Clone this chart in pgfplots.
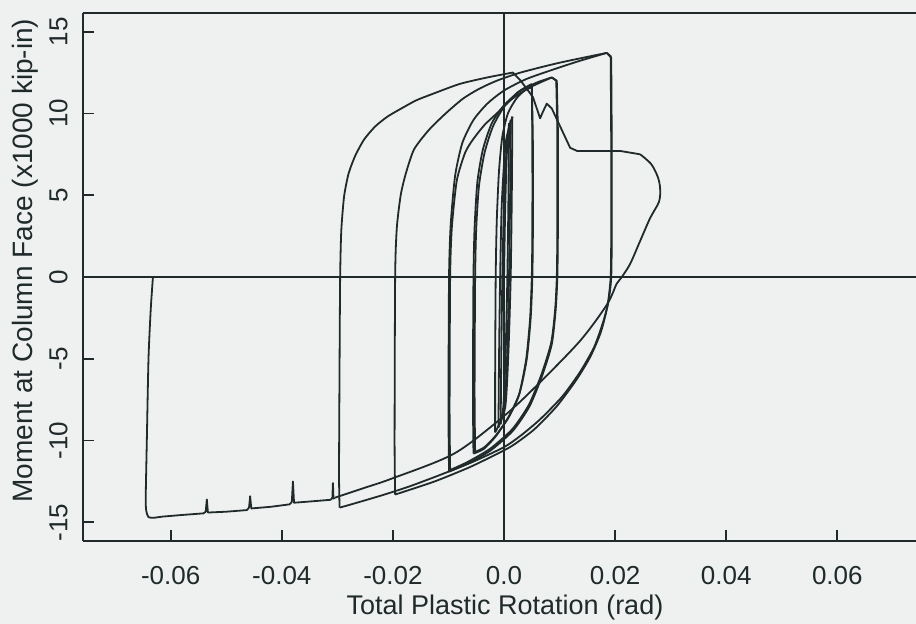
\documentclass[border=0pt]{standalone}
\usepackage{pgfplots}
\pgfplotsset{compat=1.18}
\usepackage{fontspec}
\setmainfont{Liberation Sans}
\definecolor{bgc}{RGB}{238,241,240}
\definecolor{ink}{RGB}{32,42,42}
\begin{document}
\begin{tikzpicture}
\fill[bgc] (-41.5pt,-41.5pt) rectangle (416.5pt,270.5pt);
\useasboundingbox (-41.5pt,-41.5pt) rectangle (416.5pt,270.5pt);
\begin{axis}[
  at={(0,0)}, anchor=south west,
  scale only axis, width=416.5pt, height=264pt,
  xmin=-0.07579, xmax=0.07416, ymin=-16.14, ymax=16.14,
  axis x line*=box, axis y line*=left,
  x axis line style={-, line width=0.9pt, ink},
  y axis line style={-, line width=0.9pt, ink},
  xtick pos=bottom, ytick pos=left,
  tick align=inside, major tick length=5.5pt,
  tick style={line width=0.9pt, ink},
  scaled x ticks=false, scaled y ticks=false,
  xtick={-0.06,-0.04,-0.02,0,0.02,0.04,0.06},
  xticklabels={-0.06,-0.04,-0.02,0.0,0.02,0.04,0.06},
  ytick={-15,-10,-5,0,5,10,15},
  yticklabels={-15,-10,-5,0,5,10,15},
  ticklabel style={font=\fontsize{13}{15}\selectfont, text=ink, inner sep=0pt},
  xticklabel style={anchor=north},
  xticklabel shift=12.5pt,
  yticklabel style={rotate=90, anchor=south},
  yticklabel shift=7.5pt,
  extra x ticks={0}, extra x tick labels={},
  extra y ticks={0}, extra y tick labels={},
  extra tick style={major tick length=0pt, grid=major, major grid style={line width=0.9pt, ink}},
  xlabel={Total Plastic Rotation (rad)},
  ylabel={Moment at Column Face (x1000 kip-in)},
  xlabel style={at={(axis description cs:0.5066,0)}, anchor=base, yshift=-37pt, font=\fontsize{13.5}{16}\selectfont, text=ink},
  ylabel style={at={(axis description cs:-0.0612,0.531)}, anchor=base, rotate=0, font=\fontsize{14}{16}\selectfont, text=ink},
  cv/.style={ink, line width=0.9pt, line join=round, no marks, smooth, tension=0.4},
  ln/.style={ink, line width=0.9pt, line join=round, no marks, sharp plot},
]
% small elastic cycles
\addplot[cv] coordinates {
(0,0)(0.0002,4)(0.0005,7.5)(0.0009,9.4)
};
\addplot[cv] coordinates {
(0.0009,9.4)(0.0008,5)(0.0006,0)(0.0003,-4.5)(-0.0001,-7.8)(-0.0006,-9.0)
};
\addplot[cv] coordinates {
(-0.0006,-9.0)(-0.0005,-5)(-0.0003,0)(0.0,4.5)(0.0005,8)(0.0012,9.6)
};
\addplot[cv] coordinates {
(0.0012,9.6)(0.0011,5)(0.0009,0)(0.0006,-4.5)(0.0001,-7.8)(-0.0010,-9.2)
};
\addplot[cv] coordinates {
(-0.0010,-9.2)(-0.0009,-5)(-0.0007,0)(-0.0004,4.5)(0.0003,8.2)(0.0015,9.8)
};
\addplot[cv] coordinates {
(0.0015,9.8)(0.0014,5)(0.0012,0)(0.0008,-4.5)(0.0002,-8)(-0.0016,-9.5)
};
% +/-0.005 cycles
\addplot[cv] coordinates {
(-0.0016,-9.5)(-0.0016,-6)(-0.0015,0)(-0.0013,3.5)(-0.0009,6.5)(-0.0003,8.6)(0.0007,10)(0.0022,10.9)(0.0037,11.4)(0.005,11.6)
};
\addplot[cv] coordinates {
(0.005,11.6)(0.0051,8)(0.0051,3)(0.005,0)(0.0047,-2.5)(0.0040,-5)(0.0027,-7.2)(0.0008,-8.6)(-0.0015,-9.7)(-0.0035,-10.4)(-0.0052,-10.7)
};
\addplot[cv] coordinates {
(-0.0052,-10.7)(-0.0053,-7)(-0.0052,0)(-0.0050,3)(-0.0045,5.6)(-0.0035,7.6)(-0.002,9.2)(0.0,10.4)(0.0025,11.3)(0.005,11.8)
};
\addplot[cv] coordinates {
(0.005,11.8)(0.0052,8)(0.0052,3)(0.0051,0)(0.0048,-2.5)(0.0041,-5)(0.0028,-7.1)(0.0009,-8.5)(-0.0014,-9.7)(-0.0036,-10.5)(-0.0055,-10.8)
};
% +/-0.01 cycles
\addplot[cv] coordinates {
(-0.0055,-10.8)(-0.0056,-7)(-0.0055,0)(-0.0053,3)(-0.0048,5.8)(-0.0038,7.8)(-0.0022,9.4)(0.0,10.5)(0.003,11.4)(0.006,11.9)(0.0086,12.2)
};
\addplot[ln] coordinates {(0.0086,12.2)(0.0094,12.0)(0.0096,9)};
\addplot[cv] coordinates {
(0.0096,9)(0.0096,3)(0.0095,0)(0.0092,-2)(0.0085,-4.0)(0.0068,-5.9)(0.0045,-7.8)(0.0015,-9.3)(-0.0025,-10.5)(-0.0065,-11.3)(-0.0097,-11.8)
};
\addplot[cv] coordinates {
(-0.0097,-11.8)(-0.0098,-8)(-0.0097,0)(-0.0094,3)(-0.0085,5.9)(-0.0070,7.6)(-0.0056,8.4)(-0.0035,9.3)(-0.0013,10.0)(0.0015,10.9)(0.0047,11.6)(0.0086,12.2)
};
\addplot[ln] coordinates {(0.0086,12.2)(0.0095,12.0)(0.0097,9)};
\addplot[cv] coordinates {
(0.0097,9)(0.0097,3)(0.0096,0)(0.0093,-2)(0.0086,-4.1)(0.0069,-6.0)(0.0046,-7.9)(0.0016,-9.4)(-0.0024,-10.6)(-0.0065,-11.4)(-0.0099,-11.9)
};
% +/-0.02 cycles
\addplot[cv] coordinates {
(-0.0099,-11.9)(-0.0100,-8)(-0.0099,0)(-0.0096,3.2)(-0.0088,6.2)(-0.0075,8.2)(-0.0055,9.6)(-0.003,10.6)(0.0,11.4)(0.004,12.1)(0.009,12.7)(0.0135,13.2)(0.0185,13.7)
};
\addplot[ln] coordinates {(0.0185,13.7)(0.0192,13.5)(0.0193,8)};
\addplot[cv] coordinates {
(0.0193,8)(0.0193,3)(0.0192,0)(0.0186,-1.8)(0.0174,-3.4)(0.0155,-4.9)(0.013,-6.3)(0.0095,-7.9)(0.0055,-9.3)(0.002,-10.2)(0.0,-10.6)(-0.006,-11.6)(-0.0125,-12.5)(-0.0196,-13.3)
};
\addplot[cv] coordinates {
(-0.0196,-13.3)(-0.0197,-10)(-0.0196,0)(-0.0193,3)(-0.0186,5)(-0.0177,6.3)(-0.0162,7.8)(-0.0135,9.0)(-0.0105,10.0)(-0.0074,10.9)(-0.0045,11.5)(-0.0013,12.0)(0.003,12.5)(0.010,13.1)(0.0185,13.7)
};
\addplot[ln] coordinates {(0.0185,13.7)(0.0193,13.4)(0.0194,8)};
\addplot[cv] coordinates {
(0.0194,8)(0.0194,3)(0.0193,0)(0.0188,-1.5)(0.0178,-2.8)(0.0162,-4.3)(0.0137,-5.8)(0.0105,-7.3)(0.0065,-8.7)(0.003,-9.7)(0.0,-10.4)(-0.0056,-11.3)(-0.0115,-12.1)(-0.017,-12.8)(-0.022,-13.35)(-0.0275,-13.9)(-0.0296,-14.1)
};
% -0.03 and +0.03
\addplot[cv] coordinates {
(-0.0296,-14.1)(-0.0297,-12)(-0.0296,-5)(-0.0295,0)(-0.0293,2.8)(-0.0288,4.9)(-0.0280,6.3)(-0.0268,7.4)(-0.0252,8.4)(-0.0232,9.2)(-0.021,9.8)(-0.0185,10.3)(-0.0158,10.8)(-0.0128,11.2)(-0.008,11.8)(-0.003,12.2)(0.0016,12.5)
};
\addplot[ln] coordinates {
(0.0016,12.5)(0.0030,12.0)(0.0052,11.0)(0.0065,9.7)(0.0070,10.1)(0.0077,10.6)(0.0086,10.3)(0.0119,7.9)(0.0132,7.7)(0.017,7.7)(0.021,7.7)(0.0245,7.5)
};
\addplot[cv, tension=0.5] coordinates {
(0.0245,7.5)(0.0265,6.9)(0.0277,6.1)(0.0281,5.4)(0.0279,4.6)(0.0263,3.6)(0.0245,2.2)(0.0227,0.8)(0.0212,0.0)(0.0203,-0.4)(0.0185,-1.7)(0.0137,-3.9)(0.006,-6.6)(0.0,-8.5)(-0.009,-10.8)(-0.02,-12.3)(-0.0252,-12.9)(-0.0305,-13.5)
};
% envelope to -0.065 and final unloading
\addplot[ln] coordinates {
(-0.0305,-13.5)(-0.0307,-13.55)(-0.0308,-12.6)(-0.0309,-13.5)(-0.0312,-13.62)
(-0.034,-13.7)(-0.0378,-13.8)(-0.0380,-12.5)(-0.0382,-13.75)(-0.0386,-13.9)
(-0.042,-14.05)(-0.0455,-14.15)(-0.0457,-13.4)(-0.0459,-14.1)(-0.0463,-14.25)
(-0.050,-14.35)(-0.0533,-14.4)(-0.0535,-13.6)(-0.0537,-14.35)(-0.0541,-14.45)
(-0.058,-14.55)(-0.0615,-14.65)(-0.0630,-14.72)
};
\addplot[cv] coordinates {
(-0.0630,-14.72)(-0.0640,-14.68)(-0.0644,-14.3)(-0.0645,-13.5)(-0.0643,-10)(-0.0640,-5)(-0.0636,-2)(-0.0632,0)
};
\end{axis}
\end{tikzpicture}
\end{document}
